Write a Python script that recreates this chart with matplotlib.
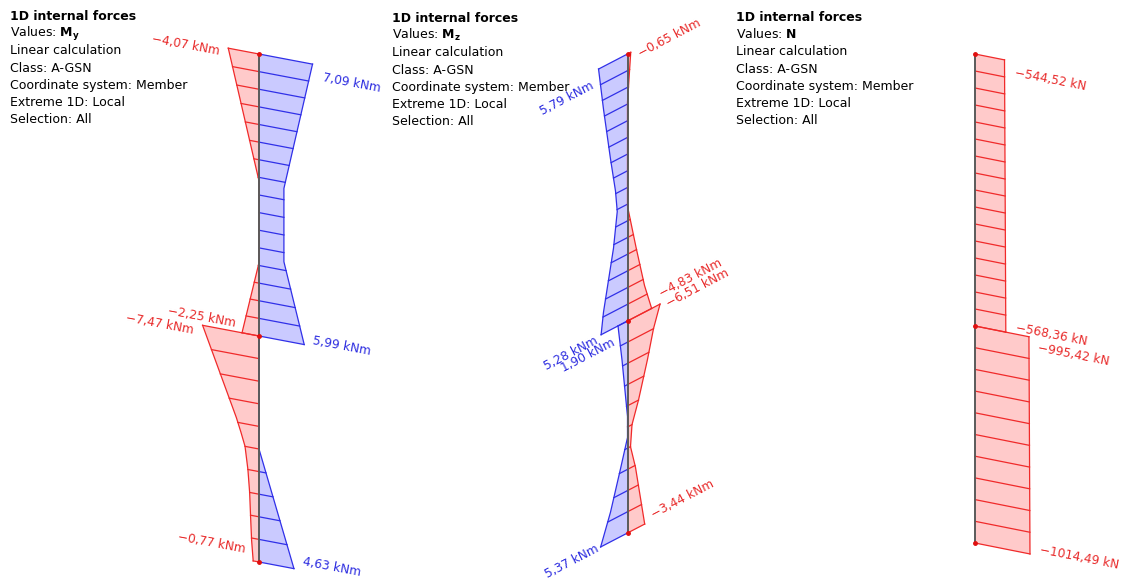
import numpy as np
import matplotlib.pyplot as plt

plt.rcParams['font.family'] = ['DejaVu Sans']
plt.rcParams['mathtext.fontset'] = 'dejavusans'

# values: (fraction along member, value)
# My, upper member
my1_max_pos = [0.0, 0.46, 0.72, 1.0]
my1_max = [7.09, 3.30, 3.30, 5.99]
my1_min_pos = [0.0, 0.45, 0.74, 1.0]
my1_min = [-4.07, 0.0, 0.0, -2.25]
# My, lower member
my2_max_pos = [0.0, 0.50, 1.0]
my2_max = [0.0, 0.0, 4.63]
my2_min_pos = [0.0, 0.38, 0.44, 0.50, 0.60, 0.70, 0.81, 0.91, 1.0]
my2_min = [-7.47, -3.0, -2.4, -1.85, -1.47, -1.24, -1.11, -0.98, -0.77]

# Mz, upper member
mz1_max_pos = [0.0, 0.16, 0.36, 0.49, 0.57, 0.70, 0.81, 0.92, 1.0]
mz1_max = [5.79, 4.8, 3.4, 2.4, 2.05, 2.8, 3.8, 4.8, 5.28]
mz1_min_pos = [0.0, 0.18, 0.57, 0.74, 0.90, 1.0]
mz1_min = [-0.65, 0.0, 0.0, -1.7, -3.4, -4.83]
# Mz, lower member
mz2_max_pos = [0.0, 0.17, 0.45, 0.55, 0.68, 0.86, 1.0]
mz2_max = [1.90, 1.1, 0.0, 0.0, 1.4, 3.4, 5.37]
mz2_min_pos = [0.0, 0.10, 0.23, 0.40, 0.50, 0.60, 0.71, 1.0]
mz2_min = [-6.51, -5.2, -4.0, -2.2, -0.9, -0.6, -1.6, -3.44]

# N
n1_pos = [0.0, 1.0]
n1 = [-544.52, -568.36]
n2_pos = [0.0, 1.0]
n2 = [-995.42, -1014.49]

value_names = [r'$\mathbf{M}_{\mathbf{y}}$', r'$\mathbf{M}_{\mathbf{z}}$', r'$\mathbf{N}$']
header_lines = ['Linear calculation', 'Class: A-GSN', 'Coordinate system: Member',
                'Extreme 1D: Local', 'Selection: All']

RED, RED_FILL, RED_TXT = '#f02a2a', '#ffcaca', '#e82a2a'
BLUE, BLUE_FILL, BLUE_TXT = '#3030e8', '#cacaff', '#2c2ce0'

# layout of the three views (pixels)
views = [
    dict(x=259, nodes=[54, 336, 562], ux=7.55, uy=1.43, n=[16, 10], hx=10, hy=20),
    dict(x=627.5, nodes=[54, 321, 533], ux=-5.0, uy=2.6, n=[16, 10], hx=392, hy=22),
    dict(x=975, nodes=[54, 326, 543], ux=-0.0542, uy=-0.0108, n=[16, 10], hx=736, hy=21),
]

fig = plt.figure(figsize=(11.21, 5.79), dpi=100)
ax = fig.add_axes([0, 0, 1, 1])
ax.set_xlim(0, 1121)
ax.set_ylim(579, 0)
ax.axis('off')


def ordinate(d, y, v):
    return d['x'] + v * d['ux'], y + v * d['uy']


def draw_env(d, k, pos, vals, line, fill):
    y0, y1 = d['nodes'][k], d['nodes'][k + 1]
    pos = np.asarray(pos)
    vals = np.asarray(vals)
    ya = y0 + pos * (y1 - y0)
    ox, oy = ordinate(d, ya, vals)
    ax.fill(np.r_[d['x'], ox, d['x']], np.r_[y0, oy, y1],
            facecolor=fill, edgecolor='none', zorder=1)
    ax.plot(ox, oy, color=line, lw=0.9, zorder=3)
    # hatch lines at the sections
    s = np.linspace(0, 1, d['n'][k] + 1)
    vs = np.interp(s, pos, vals)
    for ss, vv in zip(s, vs):
        if abs(vv) > 1e-6:
            yy = y0 + ss * (y1 - y0)
            hx, hy = ordinate(d, yy, vv)
            ax.plot([d['x'], hx], [yy, hy], color=line, lw=0.9, zorder=2)


def label(d, k, end, v, unit, color, off, ha):
    y = d['nodes'][k + end]
    cx, cy = ordinate(d, y, v)
    ang = -np.degrees(np.arctan(d['uy'] / d['ux']))
    txt = '{:.2f}'.format(v).replace('.', ',').replace('-', '\u2212') + ' ' + unit
    ax.text(cx + off[0], cy + off[1], txt, color=color, fontsize=8.7,
            rotation=ang, rotation_mode='anchor', ha=ha, va='center', zorder=5)


vy, vz, vn = views

draw_env(vy, 0, my1_min_pos, my1_min, RED, RED_FILL)
draw_env(vy, 0, my1_max_pos, my1_max, BLUE, BLUE_FILL)
draw_env(vy, 1, my2_min_pos, my2_min, RED, RED_FILL)
draw_env(vy, 1, my2_max_pos, my2_max, BLUE, BLUE_FILL)

draw_env(vz, 0, mz1_min_pos, mz1_min, RED, RED_FILL)
draw_env(vz, 0, mz1_max_pos, mz1_max, BLUE, BLUE_FILL)
draw_env(vz, 1, mz2_min_pos, mz2_min, RED, RED_FILL)
draw_env(vz, 1, mz2_max_pos, mz2_max, BLUE, BLUE_FILL)

draw_env(vn, 0, n1_pos, n1, RED, RED_FILL)
draw_env(vn, 1, n2_pos, n2, RED, RED_FILL)

# members and nodes
for d in views:
    ax.plot([d['x'], d['x']], [d['nodes'][0], d['nodes'][-1]], color='#5a5a5a', lw=1.4, zorder=4)
    ax.plot([d['x']] * 3, d['nodes'], 'o', color='#e01010', ms=2.5, zorder=6)

# value labels
label(vy, 0, 0, my1_min[0], 'kNm', RED_TXT, (-9, 3), 'right')
label(vy, 0, 0, my1_max[0], 'kNm', BLUE_TXT, (10, 13), 'left')
label(vy, 0, 1, my1_min[-1], 'kNm', RED_TXT, (-7, -9), 'right')
label(vy, 0, 1, my1_max[-1], 'kNm', BLUE_TXT, (9, -4), 'left')
label(vy, 1, 0, my2_min[0], 'kNm', RED_TXT, (-9, 5), 'right')
label(vy, 1, 1, my2_min[-1], 'kNm', RED_TXT, (-8, -12), 'right')
label(vy, 1, 1, my2_max[-1], 'kNm', BLUE_TXT, (9, -7), 'left')

label(vz, 0, 0, mz1_min[0], 'kNm', RED_TXT, (8, 2), 'left')
label(vz, 0, 0, mz1_max[0], 'kNm', BLUE_TXT, (-6, 16), 'right')
label(vz, 0, 1, mz1_min[-1], 'kNm', RED_TXT, (8, -14), 'left')
label(vz, 0, 1, mz1_max[-1], 'kNm', BLUE_TXT, (-4, 5), 'right')
label(vz, 1, 0, mz2_min[0], 'kNm', RED_TXT, (7, 0), 'left')
label(vz, 1, 0, mz2_max[0], 'kNm', BLUE_TXT, (-4, 16), 'right')
label(vz, 1, 1, mz2_min[-1], 'kNm', RED_TXT, (7, -9), 'left')
label(vz, 1, 1, mz2_max[-1], 'kNm', BLUE_TXT, (-3, 1), 'right')

label(vn, 0, 0, n1[0], 'kN', RED_TXT, (10, 13), 'left')
label(vn, 0, 1, n1[-1], 'kN', RED_TXT, (10, -5), 'left')
label(vn, 1, 0, n2[0], 'kN', RED_TXT, (9, 11), 'left')
label(vn, 1, 1, n2[-1], 'kN', RED_TXT, (10, -4), 'left')

# header blocks
for d, name in zip(views, value_names):
    y = d['hy']
    ax.text(d['hx'], y, '1D internal forces', fontsize=9, fontweight='bold', va='baseline')
    ax.text(d['hx'], y + 17.2, 'Values: ' + name, fontsize=9, va='baseline')
    for i, line in enumerate(header_lines):
        ax.text(d['hx'], y + 17.2 * (i + 2), line, fontsize=9, va='baseline')

fig.savefig('out.png', dpi=100)
